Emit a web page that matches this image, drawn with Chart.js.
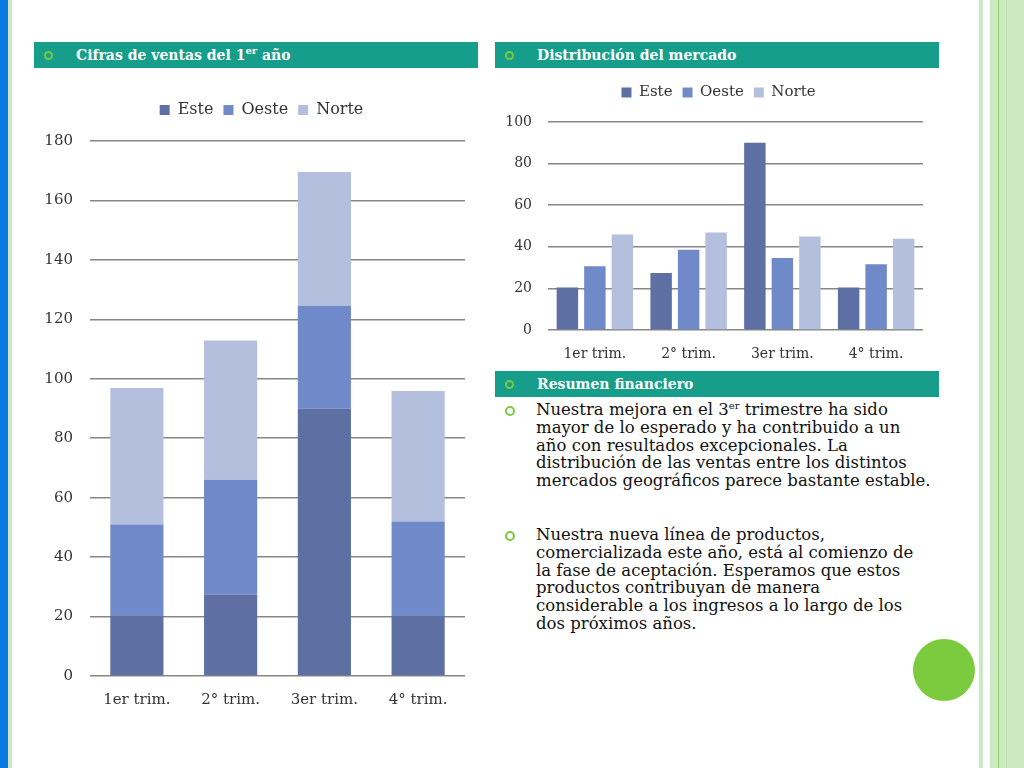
<!DOCTYPE html>
<html>
<head>
<meta charset="utf-8">
<script src="https://cdn.jsdelivr.net/npm/chart.js@4"></script>
<style>
  body { margin: 0; width: 1024px; height: 768px; background: #fff; position: relative; overflow: hidden; font-family: "DejaVu Serif", serif; }
  .stripe { position: absolute; top: 0; height: 768px; }
  .hdr { position: absolute; height: 26px; background: #179e8a; color: #fff; font-weight: bold; font-size: 14px; line-height: 26px; }
  .hdr .dot { position: absolute; left: 10px; top: 9px; width: 5px; height: 5px; border: 2px solid #7ac943; border-radius: 50%; }
  .hdr span.t { position: absolute; left: 42px; white-space: nowrap; }
  .body { position: absolute; left: 536px; font-size: 16.5px; line-height: 17.8px; color: #111; white-space: nowrap; }
  .bul { position: absolute; left: 505px; width: 6px; height: 6px; border: 2px solid #7ac943; border-radius: 50%; }
  sup { font-size: 10px; line-height: 0; }
  .chartbox { position: absolute; }
</style>
</head>
<body>
<div class="stripe" style="left:0;width:8px;background:#0a78e0"></div>
<div class="stripe" style="left:8px;width:4px;background:#cde9c3"></div>
<div class="stripe" style="left:979px;width:4px;background:#cde9c3"></div>
<div class="stripe" style="left:990px;width:34px;background:#cde9c3"></div>
<div class="stripe" style="left:998px;width:1px;background:#8ccf6a"></div>
<div class="stripe" style="left:1006px;width:1px;background:#bfe2b2"></div>

<div class="hdr" style="left:34px;top:42px;width:444px"><div class="dot"></div><span class="t">Cifras de ventas del 1<sup>er</sup> año</span></div>
<div class="hdr" style="left:495px;top:42px;width:444px"><div class="dot"></div><span class="t">Distribución del mercado</span></div>
<div class="hdr" style="left:495px;top:371px;width:444px"><div class="dot"></div><span class="t">Resumen financiero</span></div>

<div class="bul" style="top:406px"></div>
<div class="body" style="top:401px">Nuestra mejora en el 3<sup>er</sup> trimestre ha sido<br>mayor de lo esperado y ha contribuido a un<br>año con resultados excepcionales. La<br>distribución de las ventas entre los distintos<br>mercados geográficos parece bastante estable.</div>
<div class="bul" style="top:531px"></div>
<div class="body" style="top:526px">Nuestra nueva línea de productos,<br>comercializada este año, está al comienzo de<br>la fase de aceptación. Esperamos que estos<br>productos contribuyan de manera<br>considerable a los ingresos a lo largo de los<br>dos próximos años.</div>

<div style="position:absolute;left:913px;top:639px;width:62px;height:62px;border-radius:50%;background:#7ccb3e"></div>

<div class="chartbox" style="left:30px;top:92px;width:445px;height:628px"><canvas id="ventas"></canvas></div>
<div class="chartbox" style="left:490px;top:75px;width:445px;height:295px"><canvas id="mercado"></canvas></div>

<script>
const trimestres = ["1er trim.", "2° trim.", "3er trim.", "4° trim."];
const este = [20.4, 27.4, 90, 20.4];
const oeste = [30.6, 38.6, 34.6, 31.6];
const norte = [45.9, 46.9, 45, 43.9];
const colores = ["#5d6fa3", "#7089c8", "#b4bedd"];

// fixed legend height and a small sideways nudge so it sits like the slide
function legendTweak(h, dx) {
	return {
		id: "legendTweak",
		beforeInit(chart) {
			const fit = chart.legend.fit;
			chart.legend.fit = function () {
				fit.bind(chart.legend)();
				this.height = h;
			};
		},
		afterLayout(chart) {
			chart.legend.left += dx;
			chart.legend.right += dx;
		}
	};
}

function makeChart(id, stacked, opts) {
	const ctx = document.getElementById(id).getContext("2d");
	return new Chart(ctx, {
		type: "bar",
		data: {
			labels: trimestres,
			datasets: [
				{ label: "Este", data: este, backgroundColor: colores[0] },
				{ label: "Oeste", data: oeste, backgroundColor: colores[1] },
				{ label: "Norte", data: norte, backgroundColor: colores[2] }
			]
		},
		options: {
			responsive: true,
			maintainAspectRatio: false,
			animation: false,
			datasets: { bar: { barPercentage: opts.barPct, categoryPercentage: opts.catPct } },
			layout: { padding: { right: opts.padRight, left: 0, top: 0, bottom: 0 } },
			plugins: {
				legend: {
					labels: {
						boxWidth: 10,
						boxHeight: 10,
						color: "#333",
						padding: 10,
						font: { family: "DejaVu Serif", size: opts.legendSize }
					}
				},
				tooltip: { enabled: false }
			},
			scales: {
				x: {
					stacked: stacked,
					grid: { display: false },
					border: { display: false },
					ticks: { color: "#333", padding: opts.xPad, font: { family: "DejaVu Serif", size: opts.tickSize } },
					afterFit: function (scale) { scale.height = opts.xHeight; }
				},
				y: {
					stacked: stacked,
					min: 0,
					max: opts.max,
					ticks: { stepSize: 20, color: "#333", padding: opts.yPad, font: { family: "DejaVu Serif", size: opts.tickSize } },
					grid: { color: "#868686", lineWidth: 1.5, drawTicks: false },
					border: { display: false },
					afterFit: function (scale) { scale.width = opts.yWidth; }
				}
			}
		},
		plugins: [legendTweak(opts.legendH, opts.legendDx)]
	});
}

makeChart("ventas", true, {
	barPct: 0.567, catPct: 1, padRight: 10, legendSize: 16, tickSize: 15,
	xPad: 7, xHeight: 44, yPad: 17, yWidth: 60, max: 180, legendH: 49, legendDx: 14
});

makeChart("mercado", false, {
	barPct: 0.78, catPct: 0.88, padRight: 12, legendSize: 15, tickSize: 14,
	xPad: 8, xHeight: 40, yPad: 16, yWidth: 58, max: 100, legendH: 47, legendDx: 12
});
</script>
</body>
</html>
